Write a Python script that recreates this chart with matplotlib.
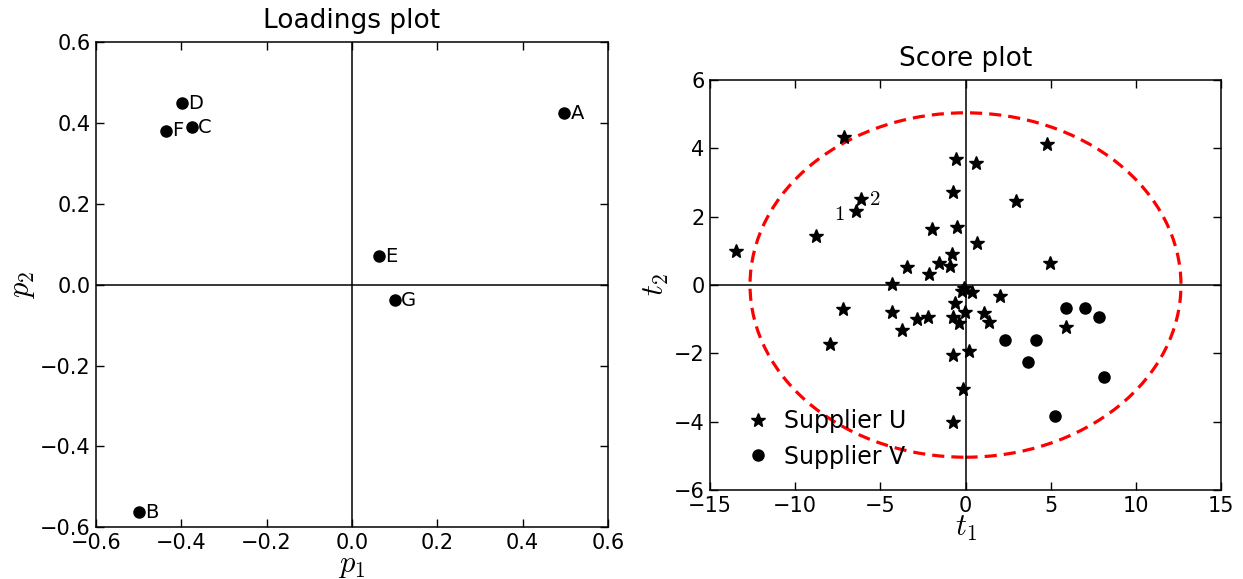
"""
Loadings and score plot for two suppliers
"""

import numpy as np
import matplotlib
matplotlib.use('Agg')
import matplotlib.pyplot as plt
from matplotlib.patches import Ellipse

plt.rcParams['mathtext.fontset'] = 'cm'
plt.rcParams['font.family'] = 'DejaVu Sans'

# Loadings
load_names = ['A', 'B', 'C', 'D', 'E', 'F', 'G']
p1 = [0.498, -0.499, -0.374, -0.399, 0.063, -0.436, 0.100]
p2 = [0.424, -0.563, 0.389, 0.449, 0.070, 0.381, -0.038]

# Scores, supplier U (stars)
u_t1 = [-7.12, -13.49, -8.80, -6.45, -6.16, -0.57, -0.73, -0.47, -1.97, -0.78,
        -1.56, -0.92, -3.46, -2.15, -4.32, -0.22, -0.08, 0.38, 2.05, -0.62,
        -0.02, -0.73, -0.39, 1.07, 1.36, -2.87, -2.23, -3.70, -7.18, -7.96,
        -4.32, -0.71, 0.22, -0.17, -0.74, 4.79, 0.61, 2.94, 0.66, 4.98, 5.92]
u_t2 = [4.32, 1.00, 1.43, 2.16, 2.51, 3.68, 2.73, 1.71, 1.64, 0.91,
        0.65, 0.56, 0.52, 0.31, 0.03, -0.17, -0.10, -0.20, -0.33, -0.52,
        -0.79, -0.95, -1.12, -0.82, -1.08, -1.00, -0.95, -1.32, -0.71, -1.73,
        -0.79, -2.06, -1.94, -3.03, -4.01, 4.13, 3.56, 2.46, 1.23, 0.64, -1.24]

# Scores, supplier V (circles)
v_t1 = [5.92, 7.02, 7.84, 2.29, 4.12, 3.65, 8.11, 5.24]
v_t2 = [-0.67, -0.68, -0.93, -1.61, -1.60, -2.25, -2.68, -3.83]

# Labelled observations (index into supplier U)
obs_labels = ['1', '2']
obs_index = [3, 4]

# Confidence ellipse semi axes
ell_a = 12.65
ell_b = 5.04

fig = plt.figure(figsize=(12.43, 5.79), dpi=100)

def style_axes(ax):
    ax.tick_params(direction='in', length=5.5, width=1, pad=4, labelsize=15,
                   top=True, right=True)
    for s in ax.spines.values():
        s.set_linewidth(1.1)
    ax.axhline(0, color='k', lw=1.1)
    ax.axvline(0, color='k', lw=1.1)

# Loadings plot
ax1 = fig.add_axes([0.0772, 0.0895, 0.4119, 0.8377])
ax1.plot(p1, p2, 'ko', ms=8)
for name, x, y in zip(load_names, p1, p2):
    ax1.text(x + 0.014, y, name, fontsize=14, ha='left', va='center')
ax1.set_xlim(-0.6, 0.6)
ax1.set_ylim(-0.6, 0.6)
ax1.set_xticks(np.arange(-0.6, 0.61, 0.2))
ax1.set_yticks(np.arange(-0.6, 0.61, 0.2))
style_axes(ax1)
ax1.set_title('Loadings plot', fontsize=19, pad=10)
ax1.set_xlabel(r'$p_1$', fontsize=22, labelpad=-1)
ax1.set_ylabel(r'$p_2$', fontsize=22, labelpad=2)

# Score plot
ax2 = fig.add_axes([0.5712, 0.1537, 0.4111, 0.7081])
ax2.plot(u_t1, u_t2, 'k*', ms=10, mec='k', label='Supplier U')
ax2.plot(v_t1, v_t2, 'ko', ms=8, label='Supplier V')
ell = Ellipse((0, 0), 2 * ell_a, 2 * ell_b, fill=False, edgecolor='red',
              lw=2.3, ls=(0, (3.8, 2.2)))
ax2.add_patch(ell)
for lab, i in zip(obs_labels, obs_index):
    if lab == '1':
        ax2.annotate('$%s$' % lab, (u_t1[i], u_t2[i]), xytext=(-8, -2),
                     textcoords='offset points', ha='right', va='center',
                     fontsize=15)
    else:
        ax2.annotate('$%s$' % lab, (u_t1[i], u_t2[i]), xytext=(6, 0),
                     textcoords='offset points', ha='left', va='center',
                     fontsize=15)
ax2.set_xlim(-15, 15)
ax2.set_ylim(-6, 6)
ax2.set_xticks(np.arange(-15, 16, 5))
ax2.set_yticks(np.arange(-6, 7, 2))
style_axes(ax2)
ax2.set_title('Score plot', fontsize=19, pad=10)
ax2.set_xlabel(r'$t_1$', fontsize=22, labelpad=-1)
ax2.set_ylabel(r'$t_2$', fontsize=22, labelpad=2)
ax2.legend(loc='lower left', frameon=False, numpoints=1, fontsize=17,
           handlelength=1.0, handletextpad=0.6, labelspacing=0.5,
           bbox_to_anchor=(0.03, 0.0))

plt.savefig('out.png', dpi=100)
